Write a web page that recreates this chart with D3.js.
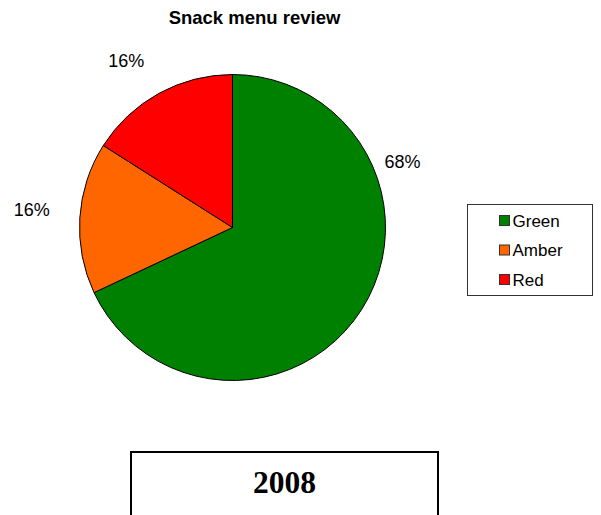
<!DOCTYPE html>
<html>
<head>
<meta charset="utf-8">
<script src="https://cdn.jsdelivr.net/npm/d3@7/dist/d3.min.js"></script>
<style>
  html, body { margin: 0; padding: 0; background: #fff; }
  svg { display: block; }
</style>
</head>
<body>
<svg id="chart" width="601" height="515"></svg>
<script>
// Snack menu review: share of items rated green / amber / red
const categories = ["Green", "Amber", "Red"];
const shares = [68, 16, 16];
const sliceColors = ["#008000", "#ff6600", "#ff0000"];
const chartTitle = "Snack menu review";
const yearLabel = "2008";

const svg = d3.select("#chart");
const W = 601, H = 515;
const cx = 232.5, cy = 227.5, radius = 153;
const sans = "'Liberation Sans', Arial, Helvetica, sans-serif";

// Title
svg.append("text")
  .attr("x", 254.5).attr("y", 24)
  .attr("text-anchor", "middle")
  .attr("font-family", sans)
  .attr("font-weight", "bold")
  .attr("font-size", 18.5)
  .attr("fill", "#000")
  .text(chartTitle);

// Pie, starting at twelve o'clock and running clockwise
const pie = d3.pie().sort(null).value(d => d.value);
const arcs = pie(categories.map((c, i) => ({ name: c, value: shares[i], color: sliceColors[i] })));
const arcGen = d3.arc().innerRadius(0).outerRadius(radius);

const g = svg.append("g").attr("transform", `translate(${cx},${cy})`);
g.selectAll("path.slice")
  .data(arcs)
  .join("path")
  .attr("class", "slice")
  .attr("d", arcGen)
  .attr("fill", d => d.data.color)
  .attr("stroke", "#000")
  .attr("stroke-width", 1)
  .attr("stroke-linejoin", "round");

// Percentage labels outside the rim. Narrow slices are labelled at their
// mid-angle; a wide slice carries its label near its leading edge, closer in.
const maxLabelSweep = 1.2; // radians from the slice start
const total = d3.sum(shares);
arcs.forEach(d => {
  const half = (d.endAngle - d.startAngle) / 2;
  const capped = half > maxLabelSweep;
  const a = d.startAngle + (capped ? maxLabelSweep : half);
  const rr = radius + (capped ? 10 : 30);
  const x = rr * Math.sin(a), y = -rr * Math.cos(a);
  const right = Math.sin(a) >= 0;
  const upper = Math.cos(a) >= 0;
  g.append("text")
    .attr("x", x)
    .attr("y", y)
    .attr("text-anchor", right ? "start" : "end")
    .attr("dominant-baseline", upper ? "alphabetic" : "hanging")
    .attr("font-family", sans)
    .attr("font-size", 18)
    .attr("fill", "#000")
    .text(Math.round(d.data.value / total * 100) + "%");
});

// Legend
const legend = svg.append("g").attr("transform", "translate(467.5,204.5)");
legend.append("rect")
  .attr("width", 125).attr("height", 91)
  .attr("fill", "#fff")
  .attr("stroke", "#333")
  .attr("stroke-width", 1);
const rowY = d3.scalePoint().domain(categories).range([22, 81]);
const rows = legend.selectAll("g.row")
  .data(categories)
  .join("g")
  .attr("class", "row")
  .attr("transform", c => `translate(0,${rowY(c)})`);
rows.append("rect")
  .attr("x", 32).attr("y", -11)
  .attr("width", 10).attr("height", 10)
  .attr("fill", (c, i) => sliceColors[i])
  .attr("stroke", "#333")
  .attr("stroke-width", 1);
rows.append("text")
  .attr("x", 45).attr("y", 0)
  .attr("font-family", sans)
  .attr("font-size", 17)
  .attr("fill", "#000")
  .text(c => c);

// Year panel below the pie
svg.append("rect")
  .attr("x", 131).attr("y", 452)
  .attr("width", 307).attr("height", 90)
  .attr("fill", "#fff")
  .attr("stroke", "#000")
  .attr("stroke-width", 2);
svg.append("text")
  .attr("x", 284.5).attr("y", 493)
  .attr("text-anchor", "middle")
  .attr("font-family", "'Liberation Serif', 'Times New Roman', serif")
  .attr("font-weight", "bold")
  .attr("font-size", 31.5)
  .attr("fill", "#000")
  .text(yearLabel);
</script>
</body>
</html>
